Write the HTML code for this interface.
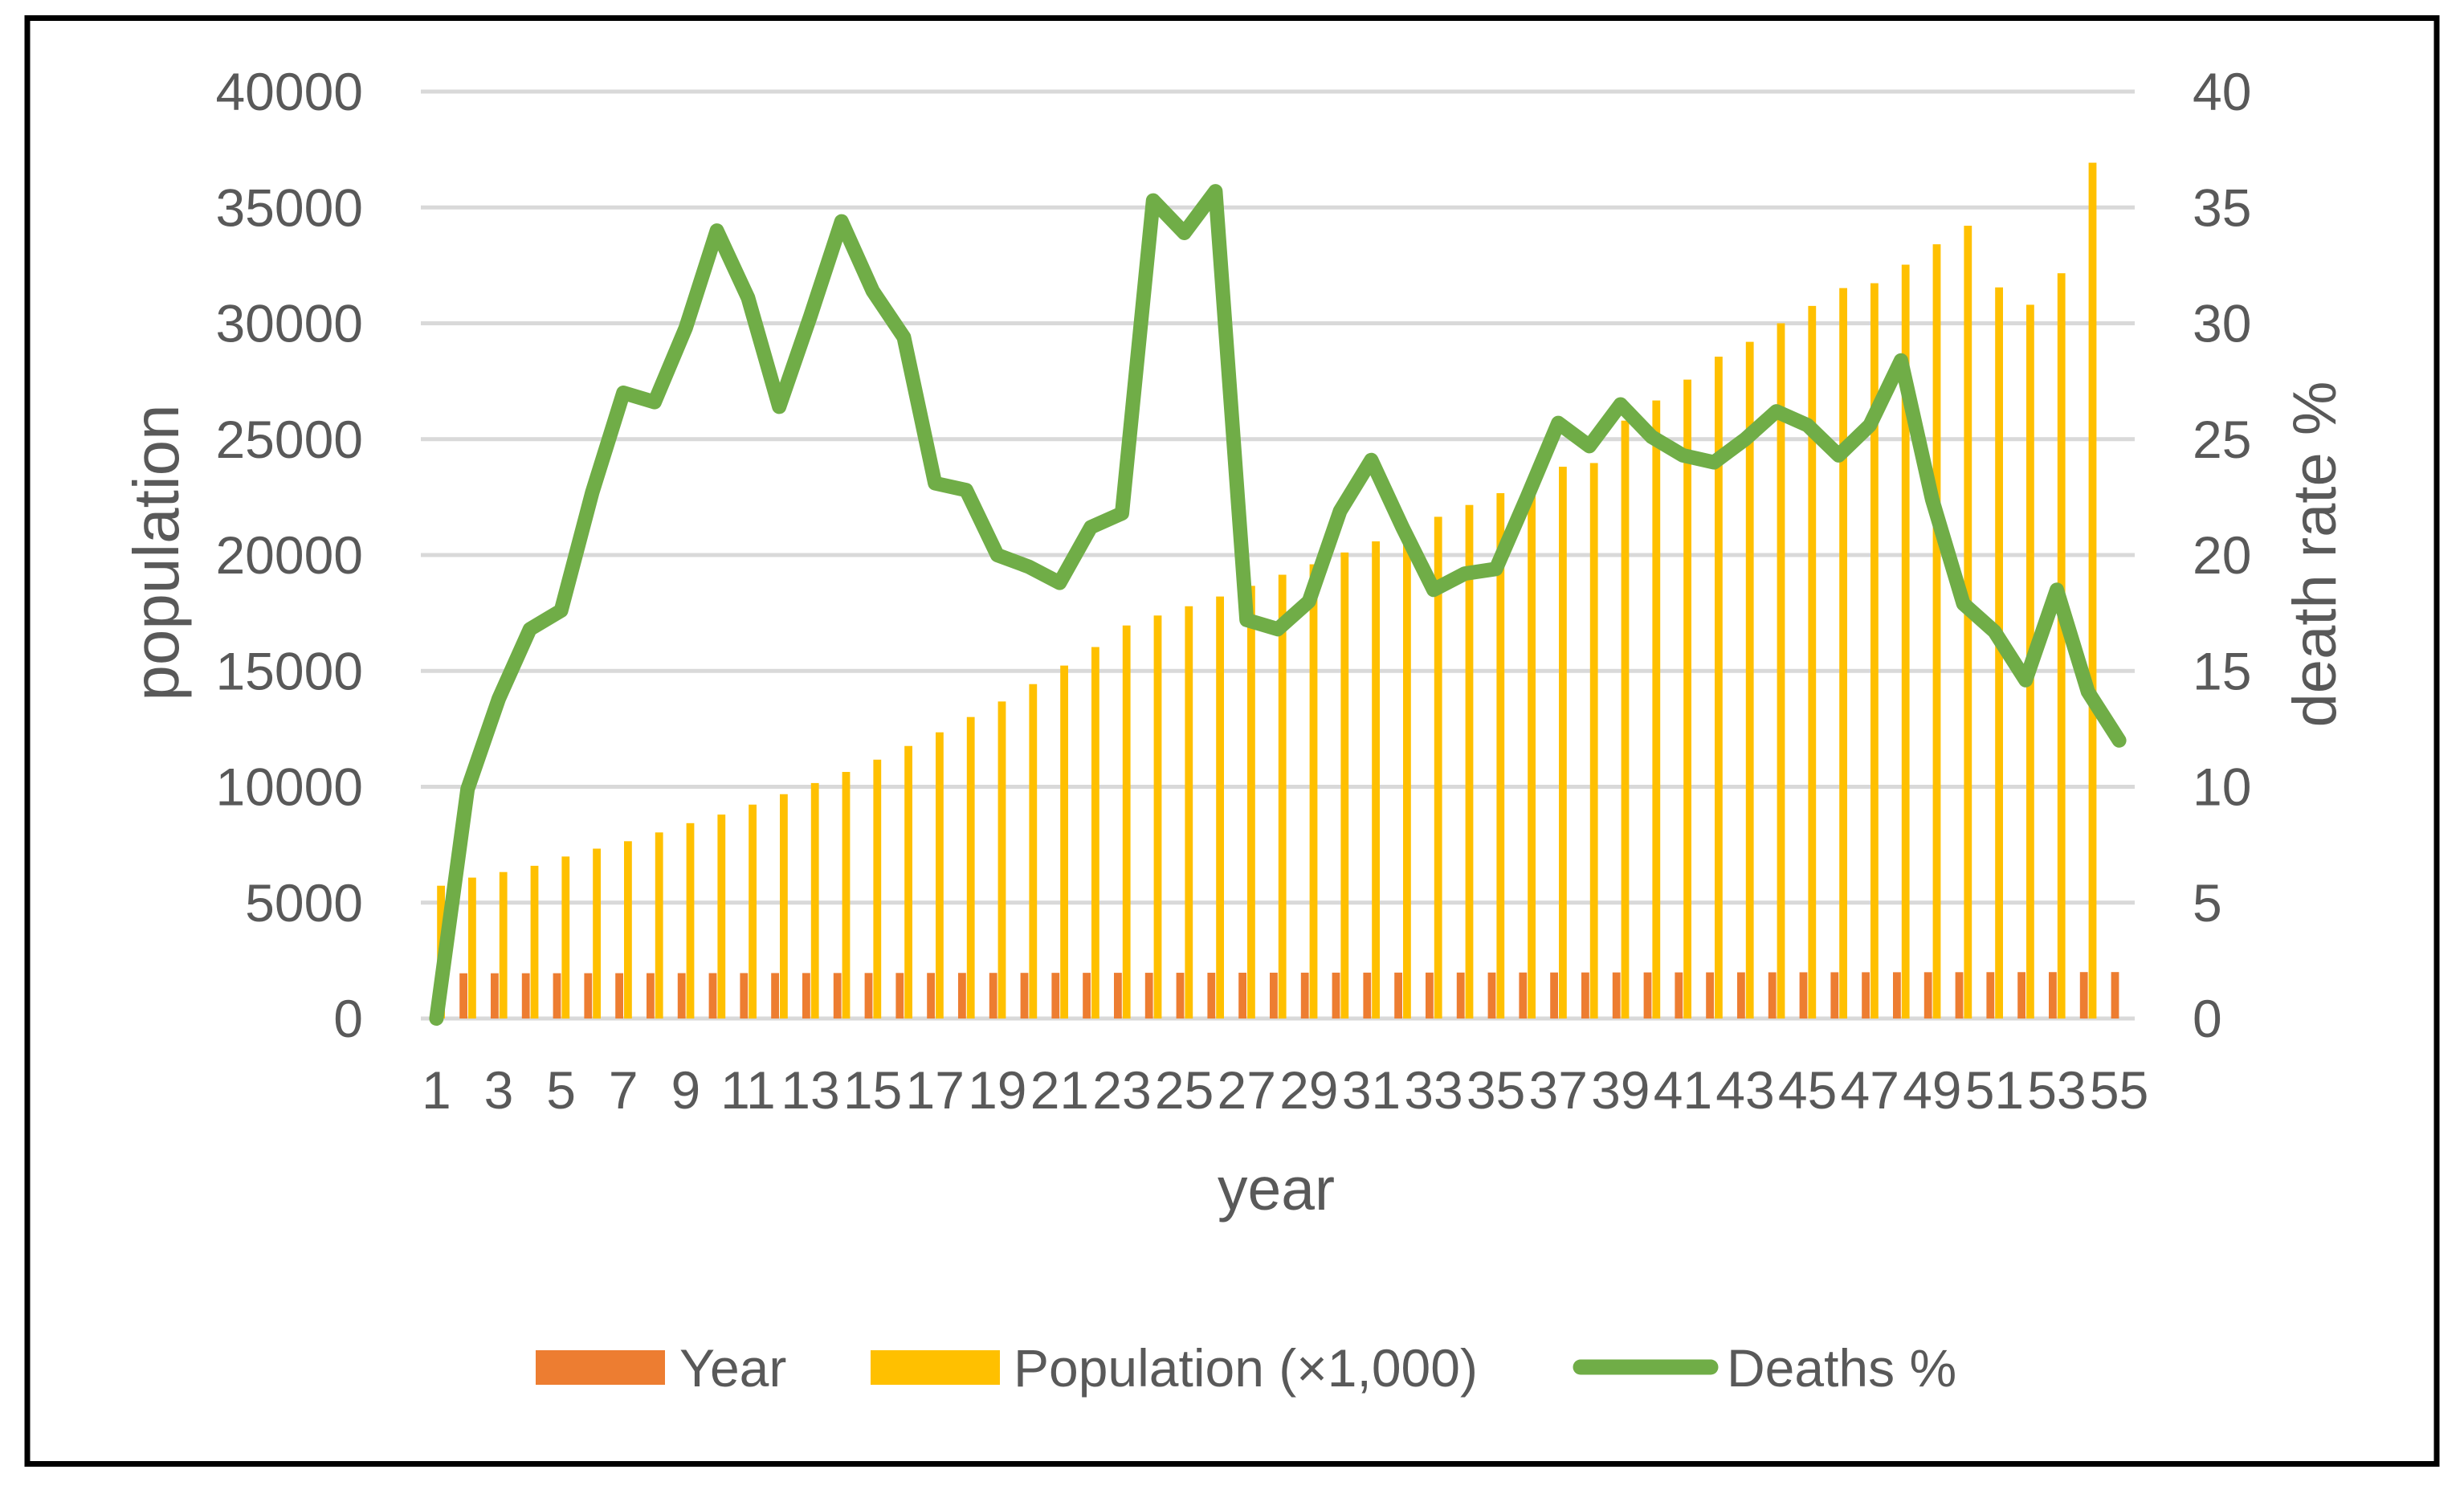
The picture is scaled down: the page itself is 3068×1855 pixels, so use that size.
<!DOCTYPE html>
<html><head><meta charset="utf-8"><style>
html,body{margin:0;padding:0;background:#fff;}
svg{display:block;font-family:"Liberation Sans",sans-serif;}
</style></head><body>
<svg id="chart" xmlns="http://www.w3.org/2000/svg" width="3068" height="1855" viewBox="0 0 3068 1855">
<rect x="0" y="0" width="3068" height="1855" fill="#fff"/>
<rect x="34" y="22.5" width="3000" height="1800" fill="none" stroke="#000" stroke-width="7"/>
<g id="grid"></g>
<g id="bars"></g>
<g id="line"></g>
<g id="labels" fill="#595959" font-size="66"></g>
<text x="0" y="0" transform="translate(222,688) rotate(-90)" text-anchor="middle" font-size="80" fill="#595959">population</text>
<text x="0" y="0" transform="translate(2908,690) rotate(-90)" text-anchor="middle" font-size="76" fill="#595959">death rate %</text>
<text x="1589" y="1506" text-anchor="middle" font-size="75" fill="#595959">year</text>
<g font-size="66" fill="#595959">
  <g>
    <rect x="667" y="1681" width="161" height="43" fill="#ed7d31"/>
    <text x="846" y="1726">Year</text>
  </g>
  <g>
    <rect x="1084" y="1681" width="161" height="43" fill="#ffc000"/>
    <text x="1262" y="1726">Population (×1,000)</text>
  </g>
  <g>
    <line x1="1968" y1="1702" x2="2130" y2="1702" stroke="#70ad47" stroke-width="19" stroke-linecap="round"/>
    <text x="2150" y="1726">Deaths %</text>
  </g>
</g>
</svg>
<script>
const categories = [];
for (let i = 1; i <= 55; i++) categories.push(i);
const years = [null,1951,1952,1953,1954,1955,1956,1957,1958,1959,1960,1961,1962,1963,1964,1965,1966,1967,1968,1969,1970,1971,1972,1973,1974,1975,1976,1977,1978,1979,1980,1981,1982,1983,1984,1985,1986,1987,1988,1989,1990,1991,1992,1993,1994,1995,1996,1997,1998,1999,2000,2001,2002,2003,2004];
const population = [5730,6080,6320,6590,6990,7330,7650,8030,8430,8800,9230,9680,10160,10640,11170,11760,12350,13010,13680,14430,15230,16030,16960,17390,17790,18210,18670,19150,19600,20110,20590,21050,21650,22160,22670,23100,23810,23970,25800,26670,27570,28560,29200,30000,30750,31520,31730,32530,33410,34210,31550,30800,32160,36930,null];
const deaths = [0,9.9,13.8,16.8,17.6,22.7,27.0,26.6,29.8,34.0,31.1,26.4,30.3,34.4,31.4,29.4,23.1,22.8,20.0,19.5,18.8,21.2,21.8,35.3,33.9,35.7,17.2,16.8,18.0,21.9,24.1,21.2,18.5,19.2,19.4,22.5,25.7,24.7,26.5,25.1,24.3,24.0,25.0,26.2,25.6,24.3,25.6,28.4,22.4,17.9,16.7,14.6,18.5,14.1,12.0];
const leftTicks = [0,5000,10000,15000,20000,25000,30000,35000,40000];
const rightTicks = [0,5,10,15,20,25,30,35,40];

const NS = "http://www.w3.org/2000/svg";
const X0 = 524, X1 = 2658, Y0 = 1268, Y1 = 114;
const step = (X1 - X0) / categories.length;
function xc(i){ return X0 + step * (i + 0.5); }
function yL(v){ return Y0 - (v / 40000) * (Y0 - Y1); }
function yR(v){ return Y0 - (v / 40) * (Y0 - Y1); }
function mk(tag, attrs, parent){ const e = document.createElementNS(NS, tag); for (const k in attrs) e.setAttribute(k, attrs[k]); parent.appendChild(e); return e; }

const grid = document.getElementById('grid');
const labels = document.getElementById('labels');
leftTicks.forEach((t, i) => {
  const g = mk('line', {x1: X0, x2: X1, y1: yL(t), y2: yL(t), stroke: '#d9d9d9', 'stroke-width': 5}, grid);
  
  
  const lt = mk('text', {x: 452, y: yL(t) + 23, 'text-anchor': 'end'}, labels);
  lt.textContent = t;
  
  
  const rt = mk('text', {x: 2730, y: yR(rightTicks[i]) + 23, 'text-anchor': 'start'}, labels);
  rt.textContent = rightTicks[i];
  
  
});
categories.forEach((c, i) => {
  if (i % 2 === 0) {
    const xt = mk('text', {x: xc(i), y: 1380, 'text-anchor': 'middle'}, labels);
    xt.textContent = c;
    
    
  }
});

const bars = document.getElementById('bars');
categories.forEach((c, i) => {
  if (years[i] != null) {
    const b = mk('rect', {x: xc(i) - 10, y: yL(years[i]), width: 9.8, height: Y0 - yL(years[i]), fill: '#ed7d31'}, bars);
    
    
  }
  if (population[i] != null) {
    const b = mk('rect', {x: xc(i) + 0.8, y: yL(population[i]), width: 9.8, height: Y0 - yL(population[i]), fill: '#ffc000'}, bars);
    
    
  }
});

const lineG = document.getElementById('line');
const pts = deaths.map((d, i) => xc(i).toFixed(1) + ',' + yR(d).toFixed(1)).join(' ');
const pl = mk('polyline', {points: pts, fill: 'none', stroke: '#70ad47', 'stroke-width': 18, 'stroke-linejoin': 'round', 'stroke-linecap': 'round'}, lineG);


</script>
</body></html>
